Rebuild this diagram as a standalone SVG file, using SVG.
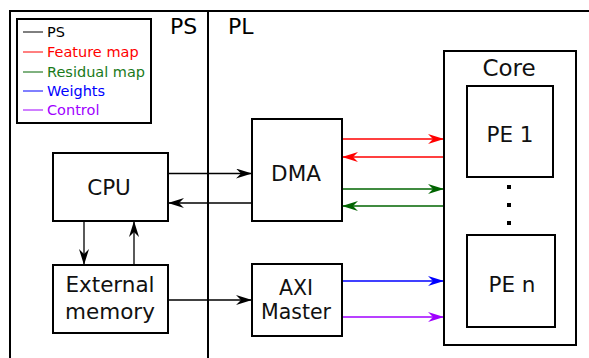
<svg xmlns="http://www.w3.org/2000/svg" width="589" height="358" viewBox="0 0 589 358">
  <defs>
    <style>
      .box { fill: #fff; stroke: #000; stroke-width: 2; }
      .frame { fill: none; stroke: #000; stroke-width: 2; }
      .lbl { font-family: "DejaVu Sans", Verdana, sans-serif; font-size: 21.5px; fill: #111; text-anchor: middle; }
      .big { font-family: "DejaVu Sans", Verdana, sans-serif; font-size: 22px; fill: #000; }
      .leg { font-family: "DejaVu Sans", Verdana, sans-serif; font-size: 14.5px; }
      .wire { fill: none; stroke-width: 1.3; }
    </style>
    <marker id="ahK" viewBox="0 0 16 10" refX="16" refY="5" markerWidth="16" markerHeight="10" markerUnits="userSpaceOnUse" orient="auto">
      <path d="M0,0 L16,5 L0,10 L5,5 Z" fill="#000"/>
    </marker>
    <marker id="ahR" viewBox="0 0 16 10" refX="16" refY="5" markerWidth="16" markerHeight="10" markerUnits="userSpaceOnUse" orient="auto">
      <path d="M0,0 L16,5 L0,10 L5,5 Z" fill="#f00"/>
    </marker>
    <marker id="ahG" viewBox="0 0 16 10" refX="16" refY="5" markerWidth="16" markerHeight="10" markerUnits="userSpaceOnUse" orient="auto">
      <path d="M0,0 L16,5 L0,10 L5,5 Z" fill="#006400"/>
    </marker>
    <marker id="ahB" viewBox="0 0 16 10" refX="16" refY="5" markerWidth="16" markerHeight="10" markerUnits="userSpaceOnUse" orient="auto">
      <path d="M0,0 L16,5 L0,10 L5,5 Z" fill="#00f"/>
    </marker>
    <marker id="ahP" viewBox="0 0 16 10" refX="16" refY="5" markerWidth="16" markerHeight="10" markerUnits="userSpaceOnUse" orient="auto">
      <path d="M0,0 L16,5 L0,10 L5,5 Z" fill="#a000ff"/>
    </marker>
  </defs>

  <rect width="589" height="358" fill="#fff"/>

  <!-- PS / PL partitions -->
  <g id="partitions">
    <rect class="frame" x="10" y="11" width="600" height="360"/>
    <line x1="208" y1="11" x2="208" y2="358" stroke="#000" stroke-width="2"/>
    <text class="big" x="170" y="34">PS</text>
    <text class="big" x="228" y="34">PL</text>
  </g>

  <!-- Legend -->
  <g id="legend">
    <rect class="box" x="17" y="19" width="134" height="104"/>
    <line x1="23" y1="32" x2="43" y2="32" stroke="#000" stroke-width="1"/>
    <text class="leg" x="47" y="37" fill="#000">PS</text>
    <line x1="23" y1="52" x2="43" y2="52" stroke="#f00" stroke-width="1"/>
    <text class="leg" x="47" y="57" fill="#f00">Feature map</text>
    <line x1="23" y1="72" x2="43" y2="72" stroke="#006400" stroke-width="1"/>
    <text class="leg" x="47" y="77" fill="#1a7a1a">Residual map</text>
    <line x1="23" y1="91" x2="43" y2="91" stroke="#00f" stroke-width="1"/>
    <text class="leg" x="47" y="96" fill="#00f">Weights</text>
    <line x1="23" y1="110" x2="43" y2="110" stroke="#a000ff" stroke-width="1"/>
    <text class="leg" x="47" y="115" fill="#a000ff">Control</text>
  </g>

  <!-- Connectors -->
  <g id="connectors">
    <line class="wire" x1="168" y1="173.5" x2="252" y2="173.5" stroke="#000" marker-end="url(#ahK)"/>
    <line class="wire" x1="252" y1="203" x2="168" y2="203" stroke="#000" marker-end="url(#ahK)"/>
    <line class="wire" x1="84" y1="221" x2="84" y2="265" stroke="#000" marker-end="url(#ahK)"/>
    <line class="wire" x1="134" y1="265" x2="134" y2="221" stroke="#000" marker-end="url(#ahK)"/>
    <line class="wire" x1="168" y1="300" x2="252" y2="300" stroke="#000" marker-end="url(#ahK)"/>
    <line class="wire" x1="342" y1="139" x2="444" y2="139" stroke="#f00" marker-end="url(#ahR)"/>
    <line class="wire" x1="444" y1="157" x2="342" y2="157" stroke="#f00" marker-end="url(#ahR)"/>
    <line class="wire" x1="342" y1="189" x2="444" y2="189" stroke="#006400" marker-end="url(#ahG)"/>
    <line class="wire" x1="444" y1="206" x2="342" y2="206" stroke="#006400" marker-end="url(#ahG)"/>
    <line class="wire" x1="342" y1="281" x2="444" y2="281" stroke="#00f" marker-end="url(#ahB)"/>
    <line class="wire" x1="342" y1="317" x2="444" y2="317" stroke="#a000ff" marker-end="url(#ahP)"/>
  </g>

  <g id="cpu">
    <rect class="box" x="53" y="153" width="115" height="68"/>
    <text class="lbl" x="109" y="195">CPU</text>
  </g>

  <g id="external-memory">
    <rect class="box" x="53" y="265" width="115" height="68"/>
    <text class="lbl" x="110" y="292">External</text>
    <text class="lbl" x="110" y="319">memory</text>
  </g>

  <g id="dma">
    <rect class="box" x="252" y="119" width="90" height="102"/>
    <text class="lbl" x="296" y="181">DMA</text>
  </g>

  <g id="axi-master">
    <rect class="box" x="252" y="264" width="90" height="72"/>
    <text class="lbl" x="296" y="295" style="font-size:20.5px">AXI</text>
    <text class="lbl" x="296" y="319" style="font-size:20.5px">Master</text>
  </g>

  <g id="core">
    <rect class="box" x="444" y="51" width="132" height="294"/>
    <text class="lbl" x="509" y="76" style="font-size:23px">Core</text>
  </g>

  <g id="pe-1">
    <rect class="box" x="467" y="86" width="86" height="91"/>
    <text class="lbl" x="510" y="142">PE 1</text>
  </g>

  <g id="pe-ellipsis">
    <rect x="507" y="185" width="4" height="4" fill="#000"/>
    <rect x="507" y="203" width="4" height="4" fill="#000"/>
    <rect x="507" y="221" width="4" height="4" fill="#000"/>
  </g>

  <g id="pe-n">
    <rect class="box" x="467" y="235" width="88" height="92"/>
    <text class="lbl" x="512" y="292">PE n</text>
  </g>
</svg>
